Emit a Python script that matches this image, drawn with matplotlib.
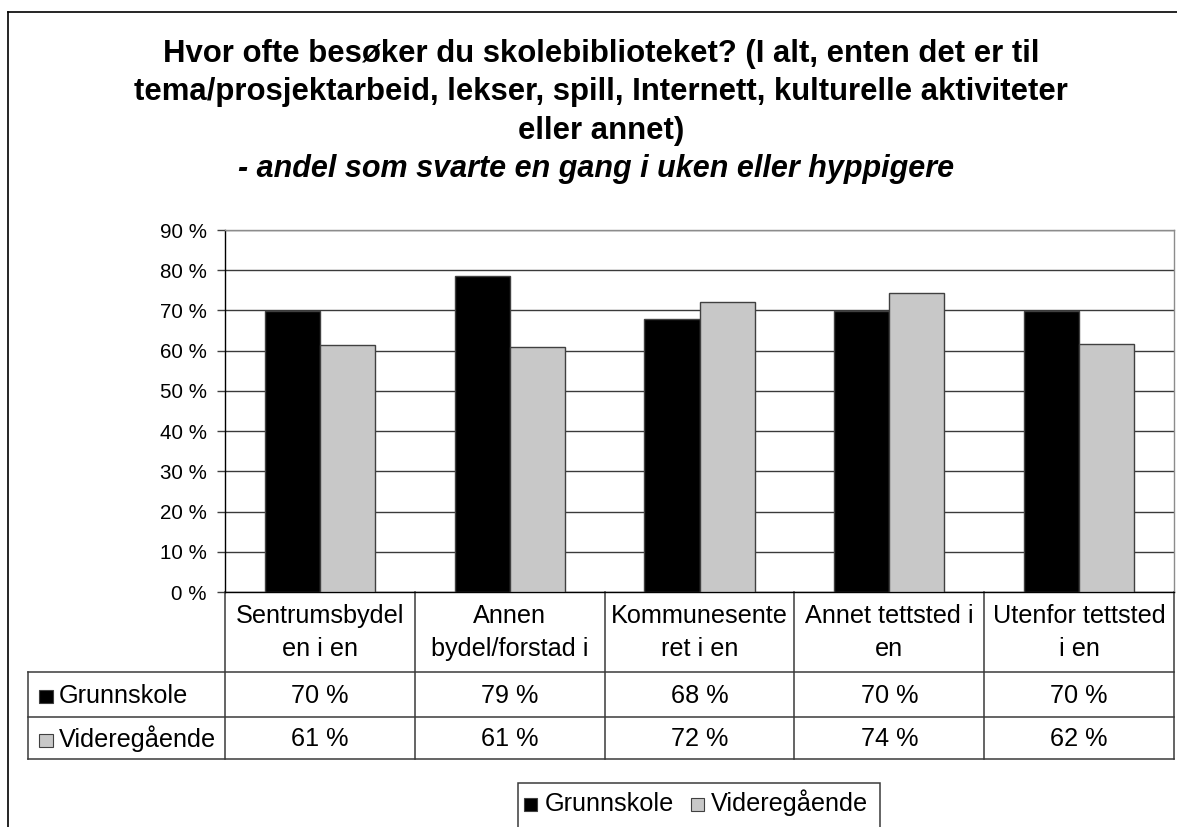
import matplotlib
matplotlib.use("Agg")
import matplotlib.pyplot as plt
import matplotlib.font_manager as fm
from matplotlib.patches import Rectangle

# ---- data ----
categories = ["Sentrumsbydel\nen i en", "Annen\nbydel/forstad i", "Kommunesente\nret i en",
              "Annet tettsted i\nen", "Utenfor tettsted\ni en"]
series_names = ["Grunnskole", "Videregående"]
grunnskole = [69.8, 78.6, 67.8, 69.9, 69.8]
videregaende = [61.3, 60.8, 72.2, 74.4, 61.6]
grunnskole_labels = ["70 %", "79 %", "68 %", "70 %", "70 %"]
videregaende_labels = ["61 %", "61 %", "72 %", "74 %", "62 %"]
yticks = [0, 10, 20, 30, 40, 50, 60, 70, 80, 90]
title_lines = ["Hvor ofte besøker du skolebiblioteket? (I alt, enten det er til",
               "tema/prosjektarbeid, lekser, spill, Internett, kulturelle aktiviteter",
               "eller annet)"]
subtitle = "- andel som svarte en gang i uken eller hyppigere"


def pick_font(weight, style):
    best = None
    for f in fm.fontManager.ttflist:
        if f.name == 'Liberation Sans' and 'Narrow' not in f.fname and f.style == style:
            w = f.weight if isinstance(f.weight, int) else (700 if 'bold' in str(f.weight).lower() else 400)
            if w == weight:
                return f.fname
            best = best or f.fname
    return best


reg_path = pick_font(400, 'normal')
bold_path = pick_font(700, 'normal')
bi_path = pick_font(700, 'italic')


def fp(path, size):
    if path:
        return fm.FontProperties(fname=path, size=size)
    return fm.FontProperties(family='Liberation Sans', size=size)


W, H = 1177, 827
fig = plt.figure(figsize=(W / 100, H / 100), dpi=100)

ov = fig.add_axes([0, 0, 1, 1], zorder=0)
ov.set_xlim(0, W)
ov.set_ylim(H, 0)
ov.axis('off')

BLACK = '#000000'
GRAY = '#C8C8C8'
EDGE = '#404040'

px0, px1, py0, py1 = 225, 1174, 230, 592
ax = fig.add_axes([px0 / W, 1 - py1 / H, (px1 - px0) / W, (py1 - py0) / H], zorder=2)
ax.patch.set_alpha(0)

n = len(categories)
xs = list(range(n))
bw = 0.29
ax.bar([x - bw / 2 for x in xs], grunnskole, width=bw, color=BLACK, edgecolor=EDGE, linewidth=1, zorder=3)
ax.bar([x + bw / 2 for x in xs], videregaende, width=bw, color=GRAY, edgecolor=EDGE, linewidth=1, zorder=3)
ax.set_xlim(-0.5, n - 0.5)
ax.set_ylim(0, 90)
ax.set_yticks(yticks)
ax.set_yticklabels([f"{v} %" for v in yticks])
tick_fp = fp(reg_path, 14.8)
for lbl in ax.get_yticklabels():
    lbl.set_fontproperties(tick_fp)
ax.tick_params(axis='y', direction='out', length=6, width=1, color=EDGE, pad=7)
ax.set_xticks([])
ax.grid(axis='y', color='#3a3a3a', linewidth=1, zorder=0)
ax.spines['left'].set_color('black')
ax.spines['bottom'].set_color('black')
ax.spines['top'].set_color('#8c8c8c')
ax.spines['right'].set_color('#8c8c8c')
for s in ax.spines.values():
    s.set_linewidth(1)

# outer frame
ov.plot([8, W], [12, 12], color='black', lw=1.2)
ov.plot([8, 8], [12, H], color='black', lw=1.2)

# title
cx = 601
title_fp = fp(bold_path, 22.4)
for i, line in enumerate(title_lines):
    ov.text(cx, 62 + 38.3 * i, line, ha='center', va='baseline', fontproperties=title_fp)
ov.text(596, 62 + 38.3 * 3, subtitle, ha='center', va='baseline', fontproperties=fp(bi_path, 22.0))

# data table
cw = (px1 - px0) / n
tbl_left = 28
r0, r1, r2 = 672, 717, 759
lc = '#3a3a3a'
lw = 1.1
for y in (r0, r1, r2):
    ov.plot([tbl_left, px1], [y, y], color=lc, lw=lw)
ov.plot([tbl_left, tbl_left], [r0, r2], color=lc, lw=lw)
for i in range(n + 1):
    xv = px0 + i * cw
    ov.plot([xv, xv], [py1, r2], color=lc, lw=lw)

tfs = 18.2
tab_fp = fp(reg_path, tfs)
for i, cat in enumerate(categories):
    xc = px0 + (i + 0.5) * cw
    for j, part in enumerate(cat.split("\n")):
        ov.text(xc, 623 + 33 * j, part, ha='center', va='baseline', fontproperties=tab_fp)
    ov.text(xc, 703, grunnskole_labels[i], ha='center', va='baseline', fontproperties=tab_fp)
    ov.text(xc, 746.5, videregaende_labels[i], ha='center', va='baseline', fontproperties=tab_fp)

for base, name, col in ((703, series_names[0], BLACK), (746.5, series_names[1], GRAY)):
    ov.add_patch(Rectangle((38.5, base - 13), 14, 13, facecolor=col, edgecolor=EDGE, lw=0.8))
    ov.text(59, base, name, ha='left', va='baseline', fontproperties=tab_fp)

# legend box
ov.add_patch(Rectangle((518, 783), 362, 60, facecolor='white', edgecolor=lc, lw=1.1))
lb = 811
ov.add_patch(Rectangle((524, lb - 13), 13, 13, facecolor=BLACK, edgecolor=EDGE, lw=0.8))
ov.text(545, lb, series_names[0], ha='left', va='baseline', fontproperties=tab_fp)
ov.add_patch(Rectangle((691, lb - 13), 13, 13, facecolor=GRAY, edgecolor=EDGE, lw=0.8))
ov.text(711, lb, series_names[1], ha='left', va='baseline', fontproperties=tab_fp)

fig.savefig("out.png", dpi=100, facecolor='white')
